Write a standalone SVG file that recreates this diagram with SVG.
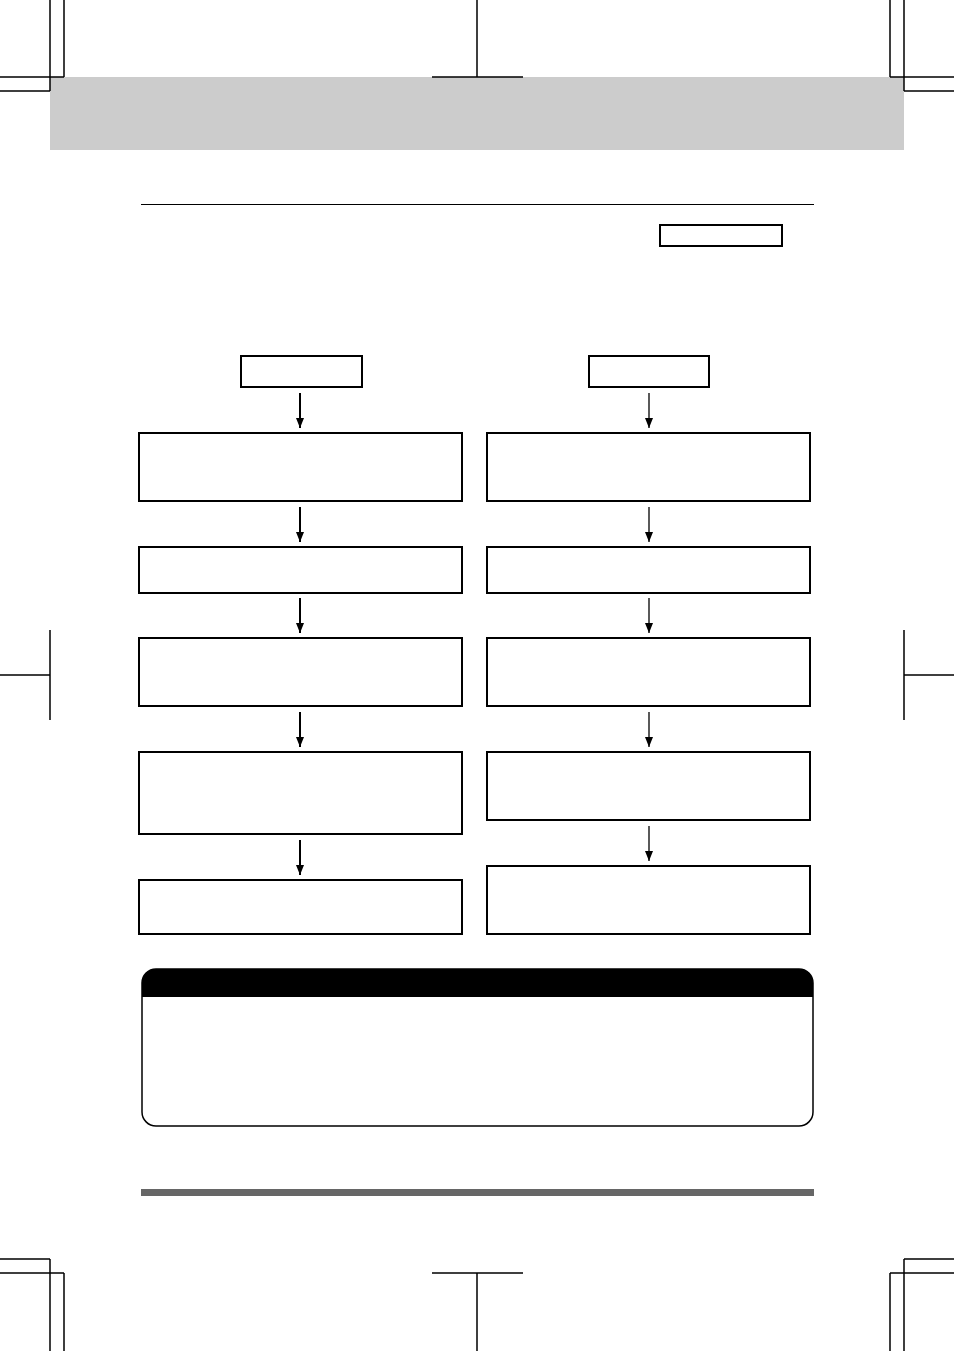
<svg xmlns="http://www.w3.org/2000/svg" width="954" height="1351" viewBox="0 0 954 1351">
<defs>
<style>
.crop{stroke:#000;stroke-width:1.5;fill:none}
.box{fill:#fff;stroke:#000;stroke-width:2}
.conL{stroke:#000;stroke-width:2;fill:none}
.conR{stroke:#000;stroke-width:1.3;fill:none}
</style>
<marker id="ah" markerWidth="10" markerHeight="8" refX="10" refY="4" orient="auto" markerUnits="userSpaceOnUse" viewBox="0 0 10 8">
<path d="M0,0 L10,4 L0,8 Z" fill="#000"/>
</marker>
</defs>
<rect width="954" height="1351" fill="#fff"/>
<g id="header-band"><rect x="50" y="77" width="854" height="73" fill="#cccccc"/></g>
<g id="crop-marks" class="crop">
<path d="M50,0V91M64,0V77M0,77H64M0,91H50"/>
<path d="M477,0V77M432,77H523"/>
<path d="M904,0V91M890,0V77M890,77H954M904,91H954"/>
<path d="M50,630V720M0,675H50"/>
<path d="M904,630V720M904,675H954"/>
<path d="M50,1259V1351M64,1273V1351M0,1259H50M0,1273H64"/>
<path d="M477,1273V1351M432,1273H523"/>
<path d="M904,1259V1351M890,1273V1351M904,1259H954M890,1273H954"/>
</g>
<g id="rule"><line x1="141" y1="204.5" x2="814" y2="204.5" stroke="#000" stroke-width="1"/></g>
<g id="tag"><rect x="660" y="225" width="122" height="21" class="box"/></g>
<g id="start-left"><rect x="241" y="356" width="121" height="31" class="box"/></g>
<g id="start-right"><rect x="589" y="356" width="120" height="31" class="box"/></g>
<g id="L1"><rect x="139" y="433" width="323" height="68" class="box"/></g>
<g id="L2"><rect x="139" y="547" width="323" height="46" class="box"/></g>
<g id="L3"><rect x="139" y="638" width="323" height="68" class="box"/></g>
<g id="L4"><rect x="139" y="752" width="323" height="82" class="box"/></g>
<g id="L5"><rect x="139" y="880" width="323" height="54" class="box"/></g>
<g id="R1"><rect x="487" y="433" width="323" height="68" class="box"/></g>
<g id="R2"><rect x="487" y="547" width="323" height="46" class="box"/></g>
<g id="R3"><rect x="487" y="638" width="323" height="68" class="box"/></g>
<g id="R4"><rect x="487" y="752" width="323" height="68" class="box"/></g>
<g id="R5"><rect x="487" y="866" width="323" height="68" class="box"/></g>
<g id="connectors">
<line x1="300" y1="393" x2="300" y2="428" class="conL" marker-end="url(#ah)"/>
<line x1="300" y1="507" x2="300" y2="542" class="conL" marker-end="url(#ah)"/>
<line x1="300" y1="598" x2="300" y2="633" class="conL" marker-end="url(#ah)"/>
<line x1="300" y1="712" x2="300" y2="747" class="conL" marker-end="url(#ah)"/>
<line x1="300" y1="840" x2="300" y2="875" class="conL" marker-end="url(#ah)"/>
<line x1="649" y1="393" x2="649" y2="428" class="conR" marker-end="url(#ah)"/>
<line x1="649" y1="507" x2="649" y2="542" class="conR" marker-end="url(#ah)"/>
<line x1="649" y1="598" x2="649" y2="633" class="conR" marker-end="url(#ah)"/>
<line x1="649" y1="712" x2="649" y2="747" class="conR" marker-end="url(#ah)"/>
<line x1="649" y1="826" x2="649" y2="861" class="conR" marker-end="url(#ah)"/>
</g>
<g id="note">
<rect x="142" y="969" width="671" height="157" rx="14" ry="14" fill="#fff" stroke="#000" stroke-width="1.5"/>
<path d="M142,997 V983 A14,14 0 0 1 156,969 H799 A14,14 0 0 1 813,983 V997 Z" fill="#000"/>
</g>
<g id="footer-bar"><rect x="141" y="1189" width="673" height="7" fill="#666666"/></g>
</svg>
